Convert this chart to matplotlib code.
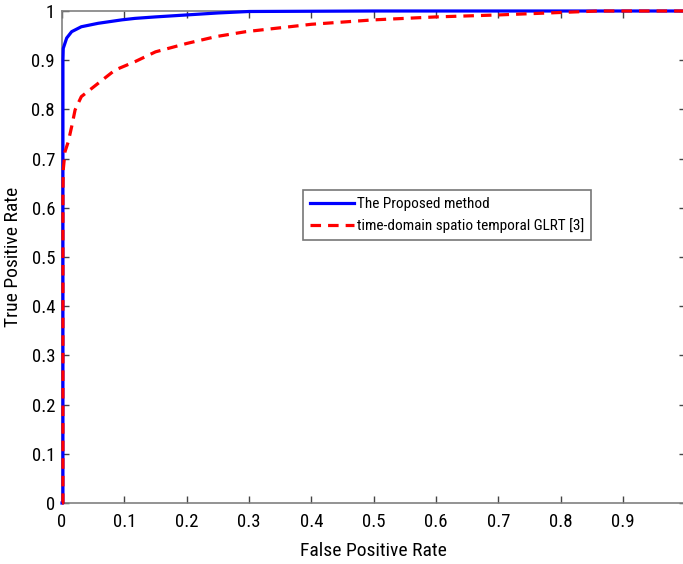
import matplotlib
matplotlib.use("Agg")
import matplotlib.pyplot as plt

plt.rcParams['font.family'] = ['DejaVu Sans Condensed', 'Roboto Condensed',
                               'Liberation Sans Narrow', 'Roboto', 'DejaVu Sans']
plt.rcParams['font.stretch'] = 'condensed'

# ROC data
fpr_proposed = [0.0, 0.0015, 0.0015, 0.002, 0.0075, 0.0155, 0.031, 0.058, 0.096, 0.117,
                0.15, 0.2, 0.25, 0.3, 0.5, 1.0]
tpr_proposed = [0.0, 0.0, 0.90, 0.924, 0.945, 0.958, 0.968, 0.975, 0.982, 0.985,
                0.988, 0.992, 0.996, 0.999, 1.0, 1.0]

fpr_glrt = [0.0, 0.0015, 0.0015, 0.002, 0.0048, 0.01, 0.0155, 0.021, 0.031, 0.058, 0.085, 0.117,
            0.15, 0.2, 0.247, 0.295, 0.4, 0.5, 0.6, 0.7, 0.78, 0.86, 1.0]
tpr_glrt = [0.0, 0.0, 0.63, 0.677, 0.714, 0.734, 0.765, 0.799, 0.826, 0.853, 0.88, 0.897,
            0.917, 0.934, 0.948, 0.958, 0.973, 0.982, 0.988, 0.992, 0.996, 1.0, 1.0]

xticks = [0, 0.1, 0.2, 0.3, 0.4, 0.5, 0.6, 0.7, 0.8, 0.9]
yticks = [0, 0.1, 0.2, 0.3, 0.4, 0.5, 0.6, 0.7, 0.8, 0.9, 1.0]
xticklabels = ['0', '0.1', '0.2', '0.3', '0.4', '0.5', '0.6', '0.7', '0.8', '0.9']
yticklabels = ['0', '0.1', '0.2', '0.3', '0.4', '0.5', '0.6', '0.7', '0.8', '0.9', '1']

W, H = 683, 564
fig = plt.figure(figsize=(W / 100, H / 100), dpi=100)
ax = fig.add_axes([62 / W, (H - 503) / H, (685.5 - 62) / W, (503 - 11) / H])

ax.plot(fpr_proposed, tpr_proposed, color='#0000ff', lw=2.3, label='The Proposed method',
        solid_joinstyle='round', clip_on=False, zorder=3)
ax.plot(fpr_glrt, tpr_glrt, color='#ff0000', lw=2.3, dashes=(3.3, 2.2),
        label='time-domain spatio temporal GLRT [3]', clip_on=False, zorder=4)

ax.set_xlim(0, 1)
ax.set_ylim(0, 1)
ax.set_xticks(xticks)
ax.set_xticklabels(xticklabels)
ax.set_yticks(yticks)
ax.set_yticklabels(yticklabels)
ax.tick_params(direction='in', length=5, width=1, color='#444444', top=True, right=True,
               labelsize=13.5)
ax.tick_params(axis='x', pad=7)
ax.tick_params(axis='y', pad=5)
for s in ax.spines.values():
    s.set_color('#808080')
    s.set_linewidth(1.2)
    s.set_zorder(2)

ax.set_xlabel('False Positive Rate', fontsize=14, labelpad=8)
ax.set_ylabel('True Positive Rate', fontsize=14, labelpad=7)

leg = ax.legend(loc='upper left', bbox_to_anchor=((303 - 62) / 623.5, (503 - 190) / 492),
                fontsize=11, frameon=True, fancybox=False, handlelength=2.9,
                handletextpad=0.2, borderpad=0.45, labelspacing=0.5, borderaxespad=0)
leg.get_frame().set_edgecolor('#555555')
leg.get_frame().set_linewidth(1.2)
leg.set_zorder(5)

fig.savefig('out.png', dpi=100)
